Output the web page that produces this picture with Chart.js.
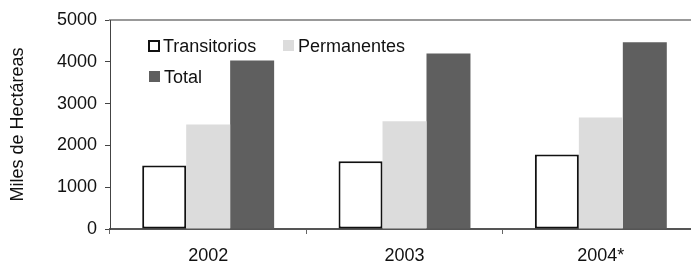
<!DOCTYPE html>
<html>
<head>
<meta charset="utf-8">
<script src="https://cdn.jsdelivr.net/npm/chart.js@4"></script>
<style>
  html, body { margin:0; padding:0; background:#fff; overflow:hidden; }
  /* canvas is a bit wider than the window: the plot runs past the right edge, as in the reference */
  #wrap { width:705px; height:265px; }
</style>
</head>
<body>
<div id="wrap"><canvas id="chart"></canvas></div>
<script>
const years = ['2002', '2003', '2004*'];
const transitorios = [1520, 1620, 1780];
const permanentes = [2500, 2580, 2670];
const total = [4030, 4200, 4470];
const yTicks = [0, 1000, 2000, 3000, 4000, 5000];

const FONT = 'Liberation Sans, Arial, sans-serif';

// legend drawn inside the plot, two items on first row, one below
const insideLegend = {
  id: 'insideLegend',
  afterDraw(chart) {
    const ctx = chart.ctx, a = chart.chartArea;
    const spots = [[a.left + 38, a.top + 26], [a.left + 173, a.top + 26], [a.left + 39, a.top + 57]];
    ctx.save();
    ctx.font = '18px ' + FONT;
    ctx.textBaseline = 'middle';
    chart.data.datasets.forEach((ds, i) => {
      const [x, y] = spots[i];
      if (ds.borderWidth) {
        ctx.fillStyle = ds.backgroundColor;
        ctx.fillRect(x, y - 6, 12, 12);
        ctx.strokeStyle = ds.borderColor;
        ctx.lineWidth = 2;
        ctx.strokeRect(x + 1, y - 5, 10, 10);
      } else {
        ctx.fillStyle = ds.backgroundColor;
        ctx.fillRect(x, y - 6, 11, 11);
      }
      ctx.fillStyle = '#111';
      ctx.fillText(ds.label, x + 15, y + 1);
    });
    ctx.restore();
  }
};

new Chart(document.getElementById('chart'), {
  type: 'bar',
  data: {
    labels: years,
    datasets: [
      { label: 'Transitorios', data: transitorios, backgroundColor: '#ffffff', borderColor: '#111111', borderWidth: 2, borderSkipped: false },
      { label: 'Permanentes', data: permanentes, backgroundColor: '#dcdcdc', borderWidth: 0 },
      { label: 'Total', data: total, backgroundColor: '#5f5f5f', borderWidth: 0 }
    ]
  },
  options: {
    responsive: true,
    maintainAspectRatio: false,
    animation: false,
    layout: { padding: { top: 20, left: 0, right: 6, bottom: 0 } },
    datasets: { bar: { categoryPercentage: 0.672, barPercentage: 1 } },
    plugins: { legend: { display: false }, tooltip: { enabled: false } },
    scales: {
      x: {
        grid: { display: true, offset: true, drawOnChartArea: false, tickLength: 5, color: '#666' },
        border: { display: true, color: '#555', width: 2 },
        ticks: { color: '#111', font: { family: FONT, size: 18 }, padding: 11 },
        afterFit: s => { s.height = 36; }
      },
      xTop: {
        position: 'top',
        display: true,
        grid: { display: false },
        border: { display: true, color: '#999', width: 2 },
        ticks: { display: false },
        afterFit: s => { s.height = 0; }
      },
      y: {
        min: 0, max: 5000,
        afterBuildTicks: s => { s.ticks = yTicks.map(v => ({ value: v })); },
        grid: { drawOnChartArea: false, tickLength: 5, color: '#444' },
        border: { display: true, color: '#444', width: 1 },
        ticks: { color: '#111', font: { family: FONT, size: 18 }, padding: 8, callback: v => String(v) },
        title: { display: true, text: 'Miles de Hectáreas', color: '#111', font: { family: FONT, size: 18 }, padding: { top: 7, bottom: 0 } },
        afterFit: s => { s.width = 110; }
      }
    }
  },
  plugins: [insideLegend]
});
</script>
</body>
</html>
